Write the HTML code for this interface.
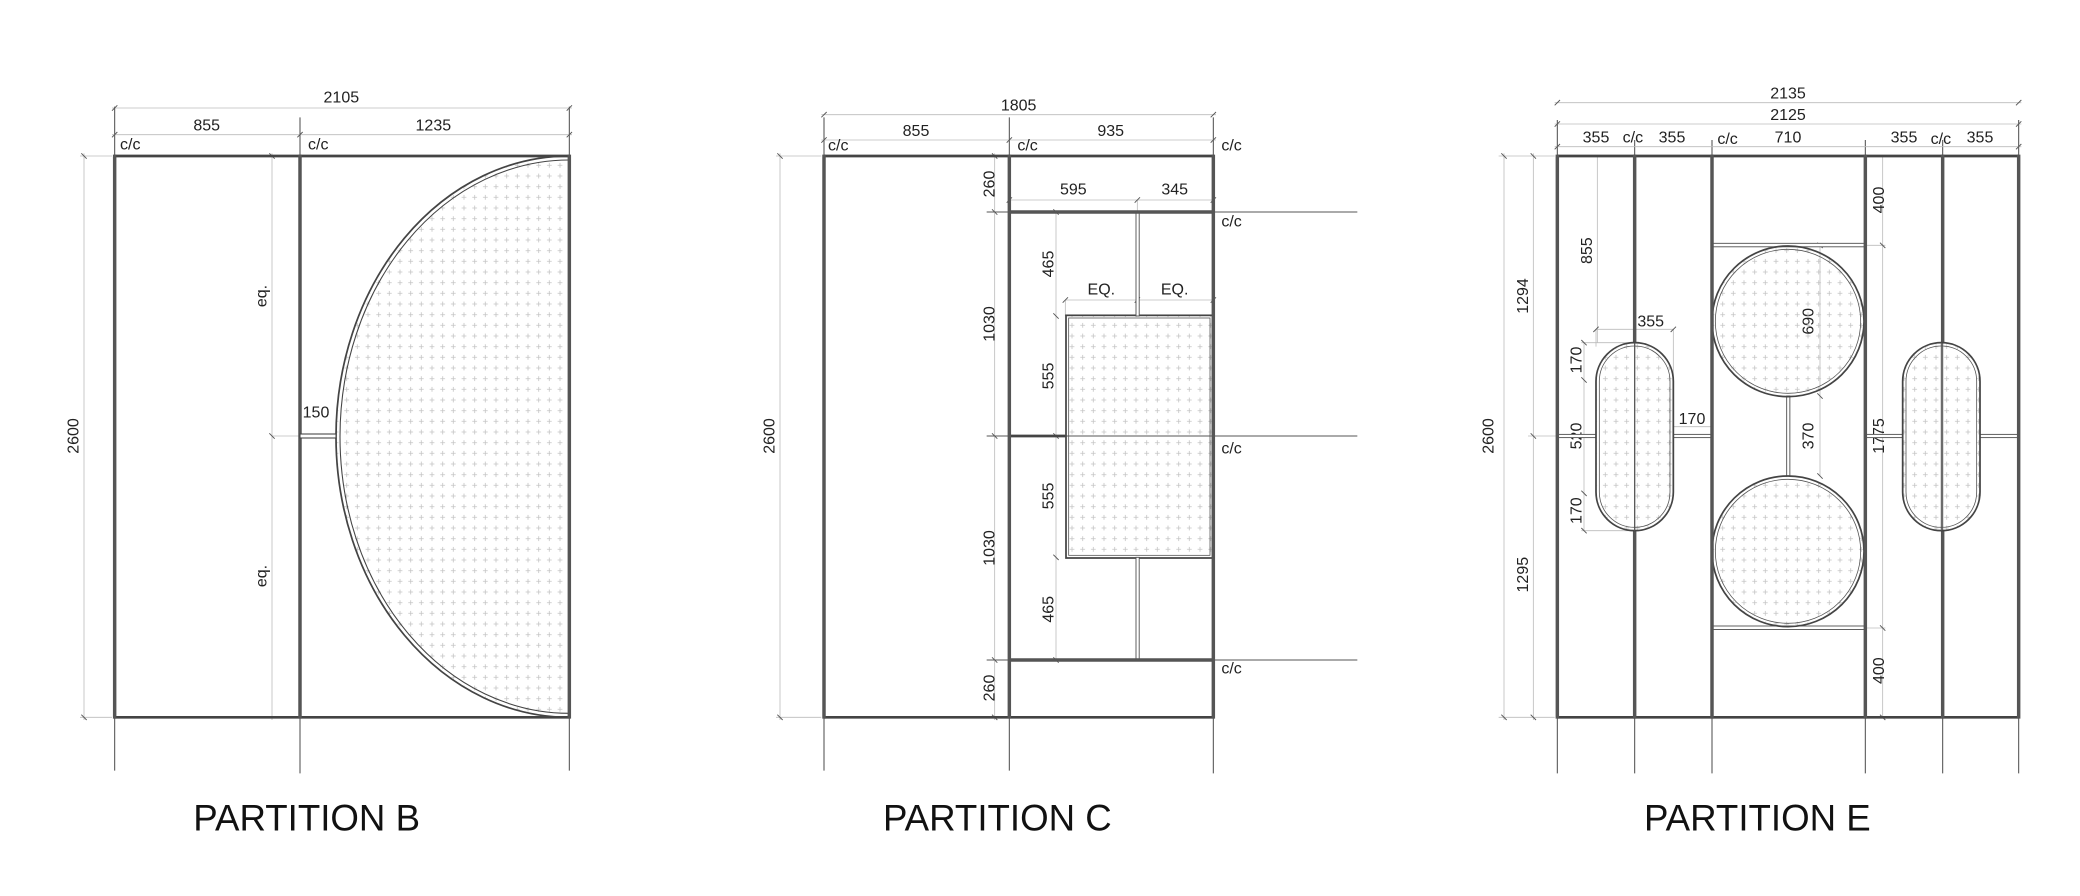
<!DOCTYPE html>
<html><head><meta charset="utf-8"><style>
html,body{margin:0;padding:0;background:#fff;}
svg{display:block;}
text{font-family:"Liberation Sans",Arial,sans-serif;fill:#222;}
.d{font-size:12px;}
.t{font-size:27.5px;fill:#111;}
.dim{stroke:#bbb;stroke-width:0.6;fill:none;}
.ext{stroke:#555;stroke-width:0.8;fill:none;}
.post{stroke:#555;stroke-width:2.6;}
.rail{stroke:#444;stroke-width:2;}
.tk{stroke:#555;stroke-width:0.7;}
.gl{fill:url(#pp);stroke:#444;stroke-width:1.3;}
</style></head><body>
<svg width="2080" height="896" viewBox="0 0 1560 672" xmlns="http://www.w3.org/2000/svg">
<defs>
<pattern id="pp" width="8" height="8" patternUnits="userSpaceOnUse">
<path d="M4 2.2V5.8M2.2 4H5.8" stroke="#c4c4c4" stroke-width="0.6"/>
</pattern>
</defs>
<rect width="1560" height="672" fill="#fff"/>

<!-- ============ PARTITION B ============ -->
<g>
<line class="ext" x1="86" y1="80" x2="86" y2="578"/>
<line class="ext" x1="225" y1="88" x2="225" y2="580"/>
<line class="ext" x1="427" y1="80" x2="427" y2="578"/>
<line class="dim" x1="84" y1="81" x2="429" y2="81"/>
<line class="dim" x1="84" y1="101" x2="429" y2="101"/>
<line class="dim" x1="63" y1="115" x2="63" y2="540"/>
<line class="dim" x1="60" y1="117" x2="84" y2="117"/>
<line class="dim" x1="60" y1="538" x2="84" y2="538"/>
<line class="dim" x1="204" y1="115" x2="204" y2="540"/>
<line class="dim" x1="204" y1="327" x2="225" y2="327"/>
<g class="tk">
<line x1="84" y1="83" x2="88" y2="79"/><line x1="425" y1="83" x2="429" y2="79"/>
<line x1="84" y1="103" x2="88" y2="99"/><line x1="223" y1="103" x2="227" y2="99"/><line x1="425" y1="103" x2="429" y2="99"/>
<line x1="61" y1="115" x2="65" y2="119"/><line x1="61" y1="536" x2="65" y2="540"/>
<line x1="202" y1="325" x2="206" y2="329"/><line x1="202" y1="115" x2="206" y2="119"/>
</g>
<text class="d" x="256" y="77" text-anchor="middle">2105</text>
<text class="d" x="155" y="98" text-anchor="middle">855</text>
<text class="d" x="325" y="98" text-anchor="middle">1235</text>
<text class="d" x="90" y="112">c/c</text>
<text class="d" x="231" y="112">c/c</text>
<text class="d" transform="translate(59,327) rotate(-90)" text-anchor="middle">2600</text>
<text class="d" transform="translate(200,222) rotate(-90)" text-anchor="middle">eq.</text>
<text class="d" transform="translate(200,432) rotate(-90)" text-anchor="middle">eq.</text>
<text class="d" x="237" y="313" text-anchor="middle">150</text>
<path class="gl" d="M427 117 A175 210.5 0 0 0 427 538 Z"/>
<path d="M427 120 A172 207.5 0 0 0 427 535" fill="none" stroke="#444" stroke-width="0.8"/>
<line class="rail" x1="86" y1="117" x2="427" y2="117"/>
<line class="rail" x1="86" y1="538" x2="427" y2="538"/>
<line class="post" x1="86" y1="116" x2="86" y2="539"/>
<line class="post" x1="225" y1="116" x2="225" y2="539"/>
<line class="post" x1="427" y1="116" x2="427" y2="539"/>
<rect x="225" y="325.5" width="27" height="3" fill="#fff" stroke="#444" stroke-width="0.8"/>
<text class="t" x="230" y="623" text-anchor="middle">PARTITION B</text>
</g>

<!-- ============ PARTITION C ============ -->
<g>
<line class="ext" x1="618" y1="88" x2="618" y2="578"/>
<line class="ext" x1="757" y1="88" x2="757" y2="578"/>
<line class="ext" x1="910" y1="88" x2="910" y2="580"/>
<line class="ext" x1="740" y1="159" x2="1018" y2="159"/>
<line class="ext" x1="740" y1="327" x2="1018" y2="327"/>
<line class="ext" x1="740" y1="495" x2="1018" y2="495"/>
<line class="dim" x1="616" y1="86" x2="912" y2="86"/>
<line class="dim" x1="616" y1="105" x2="912" y2="105"/>
<line class="dim" x1="585" y1="115" x2="585" y2="540"/>
<line class="dim" x1="582" y1="117" x2="616" y2="117"/>
<line class="dim" x1="582" y1="538" x2="616" y2="538"/>
<line class="dim" x1="746" y1="115" x2="746" y2="540"/>
<line class="dim" x1="757" y1="150" x2="910" y2="150"/>
<line class="dim" x1="853" y1="150" x2="853" y2="159"/>
<line class="dim" x1="799" y1="225" x2="910" y2="225"/>
<line class="dim" x1="799" y1="225" x2="799" y2="237"/>
<line class="dim" x1="792" y1="159" x2="792" y2="495"/>
<g class="tk">
<line x1="616" y1="88" x2="620" y2="84"/><line x1="908" y1="88" x2="912" y2="84"/>
<line x1="616" y1="107" x2="620" y2="103"/><line x1="755" y1="107" x2="759" y2="103"/><line x1="908" y1="107" x2="912" y2="103"/>
<line x1="583" y1="115" x2="587" y2="119"/><line x1="583" y1="536" x2="587" y2="540"/>
<line x1="744" y1="115" x2="748" y2="119"/><line x1="744" y1="157" x2="748" y2="161"/><line x1="744" y1="325" x2="748" y2="329"/><line x1="744" y1="493" x2="748" y2="497"/><line x1="744" y1="536" x2="748" y2="540"/>
<line x1="755" y1="152" x2="759" y2="148"/><line x1="851" y1="152" x2="855" y2="148"/><line x1="908" y1="152" x2="912" y2="148"/>
<line x1="797" y1="227" x2="801" y2="223"/><line x1="851" y1="227" x2="855" y2="223"/><line x1="908" y1="227" x2="912" y2="223"/>
<line x1="790" y1="157" x2="794" y2="161"/><line x1="790" y1="235" x2="794" y2="239"/><line x1="790" y1="325" x2="794" y2="329"/><line x1="790" y1="416" x2="794" y2="420"/><line x1="790" y1="493" x2="794" y2="497"/>
</g>
<text class="d" x="764" y="83" text-anchor="middle">1805</text>
<text class="d" x="687" y="102" text-anchor="middle">855</text>
<text class="d" x="833" y="102" text-anchor="middle">935</text>
<text class="d" x="621" y="113">c/c</text>
<text class="d" x="763" y="113">c/c</text>
<text class="d" x="916" y="113">c/c</text>
<text class="d" x="916" y="170">c/c</text>
<text class="d" x="916" y="340">c/c</text>
<text class="d" x="916" y="505">c/c</text>
<text class="d" x="805" y="146" text-anchor="middle">595</text>
<text class="d" x="881" y="146" text-anchor="middle">345</text>
<text class="d" x="826" y="221" text-anchor="middle">EQ.</text>
<text class="d" x="881" y="221" text-anchor="middle">EQ.</text>
<text class="d" transform="translate(581,327) rotate(-90)" text-anchor="middle">2600</text>
<text class="d" transform="translate(746,138) rotate(-90)" text-anchor="middle">260</text>
<text class="d" transform="translate(746,243) rotate(-90)" text-anchor="middle">1030</text>
<text class="d" transform="translate(746,411) rotate(-90)" text-anchor="middle">1030</text>
<text class="d" transform="translate(746,516) rotate(-90)" text-anchor="middle">260</text>
<text class="d" transform="translate(790,198) rotate(-90)" text-anchor="middle">465</text>
<text class="d" transform="translate(790,282) rotate(-90)" text-anchor="middle">555</text>
<text class="d" transform="translate(790,372) rotate(-90)" text-anchor="middle">555</text>
<text class="d" transform="translate(790,457) rotate(-90)" text-anchor="middle">465</text>
<rect class="gl" x="799.5" y="236.5" width="110" height="182"/>
<rect x="801.5" y="238.5" width="106" height="178" fill="none" stroke="#555" stroke-width="0.6"/>
<line x1="757" y1="327" x2="799" y2="327" stroke="#444" stroke-width="2"/>
<rect x="852" y="159" width="2.4" height="78" fill="#fff" stroke="#555" stroke-width="0.7"/>
<rect x="852" y="418" width="2.4" height="77" fill="#fff" stroke="#555" stroke-width="0.7"/>
<line class="rail" x1="618" y1="117" x2="910" y2="117"/>
<line class="rail" x1="618" y1="538" x2="910" y2="538"/>
<line class="post" x1="757" y1="159" x2="910" y2="159"/>
<line class="post" x1="757" y1="495" x2="910" y2="495"/>
<line class="post" x1="618" y1="116" x2="618" y2="539"/>
<line class="post" x1="757" y1="116" x2="757" y2="539"/>
<line class="post" x1="910" y1="116" x2="910" y2="539"/>
<text class="t" x="748" y="623" text-anchor="middle">PARTITION C</text>
</g>

<!-- ============ PARTITION E ============ -->
<g>
<line class="ext" x1="1168" y1="90" x2="1168" y2="580"/>
<line class="ext" x1="1226" y1="105" x2="1226" y2="580"/>
<line class="ext" x1="1284" y1="105" x2="1284" y2="580"/>
<line class="ext" x1="1399" y1="105" x2="1399" y2="580"/>
<line class="ext" x1="1457" y1="105" x2="1457" y2="580"/>
<line class="ext" x1="1514" y1="90" x2="1514" y2="580"/>
<line class="dim" x1="1166" y1="77" x2="1516" y2="77"/>
<line class="dim" x1="1166" y1="93" x2="1516" y2="93"/>
<line class="dim" x1="1166" y1="110" x2="1516" y2="110"/>
<line class="dim" x1="1128" y1="115" x2="1128" y2="540"/>
<line class="dim" x1="1150" y1="115" x2="1150" y2="540"/>
<line class="dim" x1="1124" y1="117" x2="1166" y2="117"/>
<line class="dim" x1="1124" y1="538" x2="1166" y2="538"/>
<line class="dim" x1="1146" y1="327" x2="1168" y2="327"/>
<line class="dim" x1="1198" y1="117" x2="1198" y2="257"/>
<line class="dim" x1="1188" y1="257" x2="1188" y2="398"/>
<line class="dim" x1="1186" y1="257" x2="1226" y2="257"/>
<line class="dim" x1="1186" y1="398" x2="1226" y2="398"/>
<line class="dim" x1="1197" y1="247" x2="1255" y2="247"/>
<line class="dim" x1="1197" y1="247" x2="1197" y2="260"/>
<line class="dim" x1="1255" y1="247" x2="1255" y2="327"/>
<line class="dim" x1="1255" y1="320" x2="1284" y2="320"/>
<line class="dim" x1="1365" y1="184" x2="1365" y2="357"/>
<line class="dim" x1="1412" y1="117" x2="1412" y2="538"/>
<line class="dim" x1="1399" y1="184" x2="1414" y2="184"/>
<line class="dim" x1="1399" y1="471" x2="1414" y2="471"/>
<g class="tk">
<line x1="1166" y1="79" x2="1170" y2="75"/><line x1="1512" y1="79" x2="1516" y2="75"/>
<line x1="1166" y1="95" x2="1170" y2="91"/><line x1="1512" y1="95" x2="1516" y2="91"/>
<line x1="1166" y1="112" x2="1170" y2="108"/><line x1="1512" y1="112" x2="1516" y2="108"/>
<line x1="1126" y1="115" x2="1130" y2="119"/><line x1="1126" y1="536" x2="1130" y2="540"/>
<line x1="1148" y1="115" x2="1152" y2="119"/><line x1="1148" y1="325" x2="1152" y2="329"/><line x1="1148" y1="536" x2="1152" y2="540"/>
<line x1="1186" y1="255" x2="1190" y2="259"/><line x1="1186" y1="283" x2="1190" y2="287"/><line x1="1186" y1="368" x2="1190" y2="372"/><line x1="1186" y1="396" x2="1190" y2="400"/>
<line x1="1195" y1="249" x2="1199" y2="245"/><line x1="1253" y1="249" x2="1257" y2="245"/>
<line x1="1410" y1="182" x2="1414" y2="186"/><line x1="1410" y1="469" x2="1414" y2="473"/><line x1="1410" y1="536" x2="1414" y2="540"/>
<line x1="1363" y1="182" x2="1367" y2="186"/><line x1="1363" y1="295" x2="1367" y2="299"/><line x1="1363" y1="355" x2="1367" y2="359"/>
</g>
<text class="d" x="1341" y="74" text-anchor="middle">2135</text>
<text class="d" x="1341" y="90" text-anchor="middle">2125</text>
<text class="d" x="1197" y="107" text-anchor="middle">355</text>
<text class="d" x="1254" y="107" text-anchor="middle">355</text>
<text class="d" x="1341" y="107" text-anchor="middle">710</text>
<text class="d" x="1428" y="107" text-anchor="middle">355</text>
<text class="d" x="1485" y="107" text-anchor="middle">355</text>
<text class="d" x="1217" y="107">c/c</text>
<text class="d" x="1288" y="108">c/c</text>
<text class="d" x="1448" y="108">c/c</text>
<text class="d" transform="translate(1120,327) rotate(-90)" text-anchor="middle">2600</text>
<text class="d" transform="translate(1146,222) rotate(-90)" text-anchor="middle">1294</text>
<text class="d" transform="translate(1146,431) rotate(-90)" text-anchor="middle">1295</text>
<text class="d" transform="translate(1194,188) rotate(-90)" text-anchor="middle">855</text>
<text class="d" transform="translate(1186,270) rotate(-90)" text-anchor="middle">170</text>
<text class="d" transform="translate(1186,327) rotate(-90)" text-anchor="middle">520</text>
<text class="d" transform="translate(1186,383) rotate(-90)" text-anchor="middle">170</text>
<text class="d" x="1238" y="245" text-anchor="middle">355</text>
<text class="d" x="1269" y="318" text-anchor="middle">170</text>
<text class="d" transform="translate(1360,241) rotate(-90)" text-anchor="middle">690</text>
<text class="d" transform="translate(1360,327) rotate(-90)" text-anchor="middle">370</text>
<text class="d" transform="translate(1413,327) rotate(-90)" text-anchor="middle">1775</text>
<text class="d" transform="translate(1413,150) rotate(-90)" text-anchor="middle">400</text>
<text class="d" transform="translate(1413,503) rotate(-90)" text-anchor="middle">400</text>
<rect x="1284" y="182.5" width="115" height="2.6" fill="#fff" stroke="#555" stroke-width="0.7"/>
<rect x="1284" y="469.5" width="115" height="2.6" fill="#fff" stroke="#555" stroke-width="0.7"/>
<rect x="1340" y="297" width="2.4" height="60" fill="#fff" stroke="#555" stroke-width="0.7"/>
<rect x="1168" y="325.8" width="29" height="2.4" fill="#fff" stroke="#555" stroke-width="0.7"/>
<rect x="1255" y="325.8" width="29" height="2.4" fill="#fff" stroke="#555" stroke-width="0.7"/>
<rect x="1399" y="325.8" width="28" height="2.4" fill="#fff" stroke="#555" stroke-width="0.7"/>
<rect x="1485" y="325.8" width="29" height="2.4" fill="#fff" stroke="#555" stroke-width="0.7"/>
<ellipse class="gl" cx="1341" cy="241" rx="57" ry="56.5"/>
<ellipse cx="1341" cy="241" rx="54.5" ry="54" fill="none" stroke="#555" stroke-width="0.6"/>
<ellipse class="gl" cx="1341" cy="413.5" rx="57" ry="56.5"/>
<ellipse cx="1341" cy="413.5" rx="54.5" ry="54" fill="none" stroke="#555" stroke-width="0.6"/>
<line class="rail" x1="1168" y1="117" x2="1514" y2="117"/>
<line class="rail" x1="1168" y1="538" x2="1514" y2="538"/>
<line class="post" x1="1168" y1="116" x2="1168" y2="539"/>
<line class="post" x1="1226" y1="116" x2="1226" y2="257"/>
<line class="post" x1="1226" y1="398" x2="1226" y2="539"/>
<line class="post" x1="1284" y1="116" x2="1284" y2="539"/>
<line class="post" x1="1399" y1="116" x2="1399" y2="539"/>
<line class="post" x1="1457" y1="116" x2="1457" y2="257"/>
<line class="post" x1="1457" y1="398" x2="1457" y2="539"/>
<line class="post" x1="1514" y1="116" x2="1514" y2="539"/>
<rect class="gl" x="1197" y="257" width="58" height="141" rx="29" ry="29"/>
<rect x="1199.5" y="259.5" width="53" height="136" rx="26.5" ry="26.5" fill="none" stroke="#555" stroke-width="0.6"/>
<line x1="1226" y1="257" x2="1226" y2="398" stroke="#555" stroke-width="0.8"/>
<rect class="gl" x="1427" y="257" width="58" height="141" rx="29" ry="29"/>
<rect x="1429.5" y="259.5" width="53" height="136" rx="26.5" ry="26.5" fill="none" stroke="#555" stroke-width="0.6"/>
<line x1="1456" y1="257" x2="1456" y2="398" stroke="#555" stroke-width="0.8"/>
<text class="t" x="1318" y="623" text-anchor="middle">PARTITION E</text>
</g>
</svg>
</body></html>
